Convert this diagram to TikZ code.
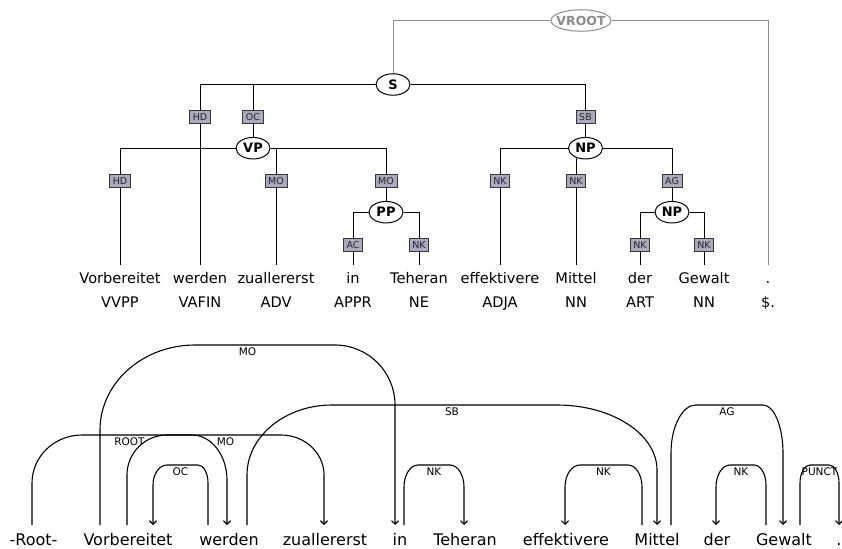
\documentclass[tikz,border=0pt]{standalone}
\usepackage{fontspec}
\setmainfont{DejaVu Sans}
\usetikzlibrary{shapes.geometric,arrows.meta,calc}
\pgfdeclarelayer{bg}
\pgfsetlayers{bg,main}

\definecolor{boxfill}{RGB}{170,170,190}
\definecolor{boxedge}{RGB}{55,55,65}
\definecolor{rootgray}{RGB}{140,140,140}

\tikzset{
  tok/.style={font=\fontsize{14.6}{17}\selectfont, anchor=base,
    text height=10.6pt, text depth=3pt, inner xsep=1pt, inner ysep=7.9pt},
  postag/.style={font=\fontsize{14.6}{17}\selectfont, anchor=base},
  cat/.style={ellipse, draw, fill=white, line width=1pt, inner sep=0pt,
    minimum width=34pt, minimum height=21.5pt,
    font=\bfseries\fontsize{13}{15}\selectfont},
  vroot/.style={ellipse, draw=rootgray, text=rootgray, fill=white, line width=1pt,
    font=\bfseries\fontsize{12.5}{15}\selectfont,
    inner xsep=-3.3pt, inner ysep=3pt, text height=9.2pt, text depth=0pt},
  elab/.style={draw=boxedge, fill=boxfill, text=black!85, line width=0.8pt,
    font=\fontsize{9.5}{11}\selectfont, text height=6.9pt, text depth=0pt,
    inner xsep=3.2pt, inner ysep=2.9pt},
  branch/.style={line width=0.9pt, black},
  rootbranch/.style={line width=0.9pt, rootgray},
  dword/.style={font=\fontsize{16}{19}\selectfont, anchor=base},
  dep/.style={line width=1.1pt, >={Straight Barb[length=3.5pt,width=7pt]}},
  deplab/.style={font=\fontsize{10.5}{12}\selectfont, anchor=base, inner sep=0pt},
}

% dependency arc: [arrow dir]{left end}{right end}{top y}{left corner w}{left corner d}
%                 {right corner w}{right corner d}{label}
\newcommand\deparc[9][->]{%
  \draw[dep,#1] let \p1=(#2), \p2=(#3), \p3=(0,#4) in
    (\p1) -- (\x1,{\y3-#6pt})
    .. controls (\x1,{\y3-0.448*#6pt}) and ({\x1+0.448*#5pt},\y3) .. ({\x1+#5pt},\y3)
    -- ({\x2-#7pt},\y3)
    .. controls ({\x2-0.448*#7pt},\y3) and (\x2,{\y3-0.448*#8pt}) .. (\x2,{\y3-#8pt})
    -- (\p2)
    node[deplab] at ({(\x1+\x2)/2},{\y3-10.7pt}) {#9};
}

\begin{document}
\begin{tikzpicture}[x=1pt,y=-1pt]
\useasboundingbox (0,0) rectangle (842,548);

% ---------- constituency tree ----------
\node[vroot] (vroot) at (581,20.5) {VROOT};
\node[cat] (S)   at (393,84.5)   {S};
\node[cat] (VP)  at (253,148.2)  {VP};
\node[cat] (PP)  at (386,212.2)  {PP};
\node[cat] (NPa) at (585.5,148.2) {NP};
\node[cat] (NPb) at (672,212.2)  {NP};

\node[tok] (t1)  at (120,283.5) {Vorbereitet};
\node[tok] (t2)  at (200,283.5) {werden};
\node[tok] (t3)  at (276,283.5) {zuallererst};
\node[tok] (t4)  at (353,283.5) {in};
\node[tok] (t5)  at (419,283.5) {Teheran};
\node[tok] (t6)  at (500,283.5) {effektivere};
\node[tok] (t7)  at (576,283.5) {Mittel};
\node[tok] (t8)  at (640,283.5) {der};
\node[tok] (t9)  at (704,283.5) {Gewalt};
\node[tok] (t10) at (768,283.5) {.};

\node[postag] (p1)  at (120,307) {VVPP};
\node[postag] (p2)  at (200,307) {VAFIN};
\node[postag] (p3)  at (276,307) {ADV};
\node[postag] (p4)  at (353,307) {APPR};
\node[postag] (p5)  at (419,307) {NE};
\node[postag] (p6)  at (500,307) {ADJA};
\node[postag] (p7)  at (576,307) {NN};
\node[postag] (p8)  at (640,307) {ART};
\node[postag] (p9)  at (704,307) {NN};
\node[postag] (p10) at (768,307) {\$.};

\node[elab] (eHDs)  at (200,117)   {HD};
\node[elab] (eOC)   at (253,117)   {OC};
\node[elab] (eSB)   at (585.5,117) {SB};
\node[elab] (eHDv)  at (120,181)   {HD};
\node[elab] (eMOa)  at (276,181)   {MO};
\node[elab] (eMOb)  at (386,181)   {MO};
\node[elab] (eNKa)  at (500,181)   {NK};
\node[elab] (eNKb)  at (576,181)   {NK};
\node[elab] (eAG)   at (672,181)   {AG};
\node[elab] (eAC)   at (353,245)   {AC};
\node[elab] (eNKc)  at (419,245)   {NK};
\node[elab] (eNKd)  at (640,245)   {NK};
\node[elab] (eNKe)  at (704,245)   {NK};

\begin{pgfonlayer}{bg}
  \draw[rootbranch] (vroot) -| (S);
  \draw[rootbranch] (vroot) -| (t10.north);
  \draw[branch] (S) -| (t2.north);
  \draw[branch] (S) -| (VP);
  \draw[branch] (S) -| (NPa);
  \draw[branch] (VP) -| (t1.north);
  \draw[branch] (VP) -| (t3.north);
  \draw[branch] (VP) -| (PP);
  \draw[branch] (PP) -| (t4.north);
  \draw[branch] (PP) -| (t5.north);
  \draw[branch] (NPa) -| (t6.north);
  \draw[branch] (NPa) -| (t7.north);
  \draw[branch] (NPa) -| (NPb);
  \draw[branch] (NPb) -| (t8.north);
  \draw[branch] (NPb) -| (t9.north);
\end{pgfonlayer}

% ---------- dependency structure ----------
\node[dword] (d0)  at (33.5,545) {-Root-};
\node[dword] (d1)  at (128,545) {Vorbereitet};
\node[dword] (d2)  at (229,545) {werden};
\node[dword] (d3)  at (325,545) {zuallererst};
\node[dword] (d4)  at (400,545) {in};
\node[dword] (d5)  at (465,545) {Teheran};
\node[dword] (d6)  at (566,545) {effektivere};
\node[dword] (d7)  at (657,545) {Mittel};
\node[dword] (d8)  at (717,545) {der};
\node[dword] (d9)  at (784,545) {Gewalt};
\node[dword] (d10) at (839,545) {.};

% attachment points just above the words
\coordinate (r0)  at (32,525);
\coordinate (v1a) at (100,525);
\coordinate (v1b) at (127,525);
\coordinate (v1c) at (153,525);
\coordinate (w2a) at (208,525);
\coordinate (w2b) at (227,525);
\coordinate (w2c) at (247,525);
\coordinate (z3)  at (324,525);
\coordinate (i4a) at (395,525);
\coordinate (i4b) at (404,525);
\coordinate (te5) at (464,525);
\coordinate (ef6) at (565,525);
\coordinate (m7a) at (642,525);
\coordinate (m7b) at (657,525);
\coordinate (m7c) at (671,525);
\coordinate (de8) at (716,525);
\coordinate (g9a) at (766,525);
\coordinate (g9b) at (783,525);
\coordinate (g9c) at (800,525);
\coordinate (pt10) at (839,525);

\deparc{r0}{w2b}{435}{50}{48}{35}{45}{ROOT}
\deparc{v1a}{i4a}{345}{95}{85}{60}{60}{MO}
\deparc{v1b}{z3}{435}{40}{40}{43}{40}{MO}
\deparc[<-]{v1c}{w2a}{465}{14}{20}{10}{18}{OC}
\deparc{w2c}{m7b}{405}{85}{70}{100}{65}{SB}
\deparc{i4b}{te5}{465}{14}{22}{14}{22}{NK}
\deparc[<-]{ef6}{m7a}{465}{15}{22}{14}{22}{NK}
\deparc{m7c}{g9b}{405}{25}{48}{20}{48}{AG}
\deparc[<-]{de8}{g9a}{465}{14}{22}{12}{20}{NK}
\deparc{g9c}{pt10}{465}{10}{18}{10}{18}{PUNCT}

\end{tikzpicture}
\end{document}
